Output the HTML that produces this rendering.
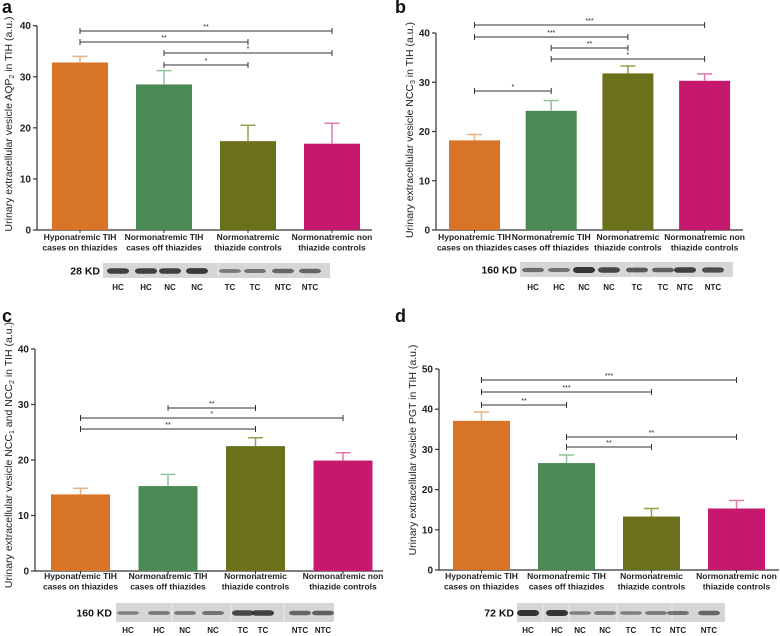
<!DOCTYPE html>
<html><head><meta charset="utf-8">
<style>
html,body{margin:0;padding:0;background:#fff;}
svg{display:block;font-family:"Liberation Sans",Arial,sans-serif;}
</style></head>
<body>
<svg id="fig" width="780" height="636" viewBox="0 0 780 636"></svg>
<script>
// ---- data ----
const categories = [["Hyponatremic TIH","cases on thiazides"],["Normonatremic TIH","cases off thiazides"],["Normonatremic","thiazide controls"],["Normonatremic non","thiazide controls"]];
const colors = ["#d87427","#4a8a55","#6b701b","#c6196e"];
const errColors = ["#eeb07e","#8fc39a","#9a9d4a","#e278ad"];
const laneLabels = ["HC","HC","NC","NC","TC","TC","NTC","NTC"];

const aValues = [32.8, 28.5, 17.4, 16.9];
const aErrors = [34.0, 31.2, 20.5, 20.9];
const aTicks = [0,10,20,30,40];
const aSig = [[0,3,"**"],[0,2,"**"],[1,3,"*"],[1,2,"*"]];
const aBands = [0.9,0.9,0.9,0.95,0.45,0.5,0.6,0.6];

const bValues = [18.2, 24.2, 31.8, 30.3];
const bErrors = [19.4, 26.3, 33.3, 31.7];
const bTicks = [0,10,20,30,40];
const bSig = [[0,3,"***"],[0,2,"***"],[1,2,"**"],[1,3,"*"],[0,1,"*"]];
const bBands = [0.55,0.5,1,0.85,0.7,0.65,0.9,0.8];

const cValues = [13.8, 15.3, 22.5, 19.9];
const cErrors = [14.9, 17.4, 24.0, 21.3];
const cTicks = [0,10,20,30,40];
const cSig = [[1,2,"**"],[0,3,"*"],[0,2,"**"]];
const cBands = [0.4,0.45,0.45,0.5,0.85,0.9,0.6,0.65];

const dValues = [37.1, 26.6, 13.3, 15.3];
const dErrors = [39.3, 28.6, 15.3, 17.3];
const dTicks = [0,10,20,30,40,50];
const dSig = [[0,3,"***"],[0,2,"***"],[0,1,"**"],[1,3,"**"],[1,2,"**"]];
const dBands = [1,1,0.4,0.45,0.4,0.45,0.5,0.6];

// ---- layout ----
const panels = [
 {id:"a",letter:"a",lx:2,ly:13,ax:37,yTop:25.7,y0:230,ymax:40,xEnd:372,x0:52,bw:56,step:84,vals:aValues,errs:aErrors,ticks:aTicks,sig:aSig,sigY:[31,42,53,65],
  title:["Urinary extracellular vesicle AQP","2"," in TIH (a.u.)"],titleX:9,titleY:124,catY:240,
  blot:{x:103,y:263,w:227,h:15,label:"28 KD",lblX:100,split:[218],laneX:[118,146,170,197,230,255,283,310],laneY:290},bands:aBands},
 {id:"b",letter:"b",lx:395,ly:13,ax:436,yTop:33,y0:230,ymax:40,xEnd:743,x0:449,bw:51,step:76.7,vals:bValues,errs:bErrors,ticks:bTicks,sig:bSig,sigY:[25,37,48,59,91],
  title:["Urinary extracellular vesicle NCC","3"," in TIH (a.u.)"],titleX:410,titleY:130,catY:240,
  blot:{x:520,y:262,w:213,h:15,label:"160 KD",lblX:517,split:[632],laneX:[533,559,584,609,637,663,685,713],laneY:290},bands:bBands},
 {id:"c",letter:"c",lx:2,ly:322,ax:35,yTop:349,y0:571,ymax:40,xEnd:383,x0:51,bw:59,step:87.5,vals:cValues,errs:cErrors,ticks:cTicks,sig:cSig,sigY:[408,418,429],
  title:["Urinary extracellular vesicle NCC","1"," and NCC","2"," in TIH (a.u.)"],titleX:9,titleY:455,catY:579,
  blot:{x:116,y:603,w:218,h:19,label:"160 KD",lblX:112,split:[172,231,284],laneX:[128,159,185,213,243,263,300,323],laneY:633},bands:cBands},
 {id:"d",letter:"d",lx:395,ly:322,ax:439,yTop:369,y0:570,ymax:50,xEnd:779,x0:453,bw:57,step:85,vals:dValues,errs:dErrors,ticks:dTicks,sig:dSig,sigY:[380,392,405,437,447],
  title:["Urinary extracellular vesicle PGT in TIH (a.u.)"],titleX:413,titleY:450,catY:579,
  blot:{x:517,y:603,w:208,h:19,label:"72 KD",lblX:514,split:[543,569,617,672],laneX:[528,557,580,605,631,656,678,709],laneY:633},bands:dBands}
];

const NS="http://www.w3.org/2000/svg";
const svg=document.getElementById("fig");
function mk(tag,attrs,parent){const e=document.createElementNS(NS,tag);for(const k in attrs)e.setAttribute(k,attrs[k]);(parent||svg).appendChild(e);return e;}

panels.forEach(p=>{
  const g=mk("g",{});
  
  
  const yS=v=>p.y0-(v/p.ymax)*(p.y0-p.yTop);
  const xC=i=>p.x0+p.bw/2+i*p.step;
  const L=mk("text",{x:p.lx,y:p.ly,"font-size":18,"font-weight":"bold",fill:"#111"},g);L.textContent=p.letter;
  
  
  const ya=mk("line",{x1:p.ax,y1:yS(p.ymax),x2:p.ax,y2:p.y0,stroke:"#333","stroke-width":1.2},g);
  
  
  const xa=mk("line",{x1:p.ax,y1:p.y0,x2:p.xEnd,y2:p.y0,stroke:"#333","stroke-width":1.2},g);
  
  
  p.ticks.forEach(t=>{
    const y=yS(t);
    mk("line",{x1:p.ax-4,y1:y,x2:p.ax,y2:y,stroke:"#333","stroke-width":1.2},g);
    const tt=mk("text",{x:p.ax-6,y:y+3.5,"font-size":10,"font-weight":"bold","text-anchor":"end",fill:"#222"},g);
    tt.textContent=t;
    
    
  });
  const tt=mk("text",{x:0,y:0,"font-size":10.5,fill:"#222","text-anchor":"middle",transform:`translate(${p.titleX+3},${p.titleY}) rotate(-90)`},g);
  
  
  p.title.forEach((s,k)=>{const ts=mk("tspan",{},tt);ts.textContent=s;if(k%2===1){ts.setAttribute("font-size",7);ts.setAttribute("dy",2);}else if(k>0){ts.setAttribute("dy",-2);}});
  p.vals.forEach((v,i)=>{
    const cx=xC(i);
    const b=mk("rect",{x:p.x0+i*p.step,y:yS(v),width:p.bw,height:p.y0-yS(v),fill:colors[i]},g);
    
    
    const e=mk("path",{d:`M${cx},${yS(v)}V${yS(p.errs[i])}M${cx-7.5},${yS(p.errs[i])}H${cx+7.5}`,stroke:errColors[i],"stroke-width":1.5,fill:"none"},g);
    
    
    mk("line",{x1:cx,y1:p.y0,x2:cx,y2:p.y0+3,stroke:"#333","stroke-width":1},g);
    categories[i].forEach((s,k)=>{
      const c=mk("text",{x:cx,y:p.catY+k*10.5,"font-size":8.5,"font-weight":"bold","text-anchor":"middle",fill:"#222"},g);
      c.textContent=s;
      
      
    });
  });
  p.sig.forEach((s,k)=>{
    const y=p.sigY[k],x1=xC(s[0]),x2=xC(s[1]);
    const br=mk("path",{d:`M${x1},${y-3}V${y+3}M${x1},${y}H${x2}M${x2},${y-3}V${y+3}`,stroke:"#333","stroke-width":1,fill:"none"},g);
    
    
    const st=mk("text",{x:(x1+x2)/2,y:y-2,"font-size":7,"text-anchor":"middle",fill:"#222"},g);
    st.textContent=s[2];
    
    
  });
  const bl=p.blot;
  const bg=mk("rect",{x:bl.x,y:bl.y,width:bl.w,height:bl.h,fill:"#d6d6d6"},g);
  
  
  bl.split.forEach(sx=>mk("line",{x1:sx,y1:bl.y,x2:sx,y2:bl.y+bl.h,stroke:"#ececec","stroke-width":1},g));
  p.bands.forEach((v,i)=>{
    const lx=bl.laneX[i];
    mk("rect",{x:lx-11,y:bl.y+bl.h/2+0.5-(1+v*2),width:22,height:2*(1+v*2),rx:4,fill:"#222","fill-opacity":0.2+v*0.7},g);
    const lt=mk("text",{x:lx,y:bl.laneY,"font-size":8,"font-weight":"bold","text-anchor":"middle",fill:"#222"},g);
    lt.textContent=laneLabels[i];
    
    
  });
  const kd=mk("text",{x:bl.lblX,y:bl.y+bl.h/2+4,"font-size":10.5,"font-weight":"bold","text-anchor":"end",fill:"#111"},g);
  kd.textContent=bl.label;
  
  
});
</script>
</body></html>
